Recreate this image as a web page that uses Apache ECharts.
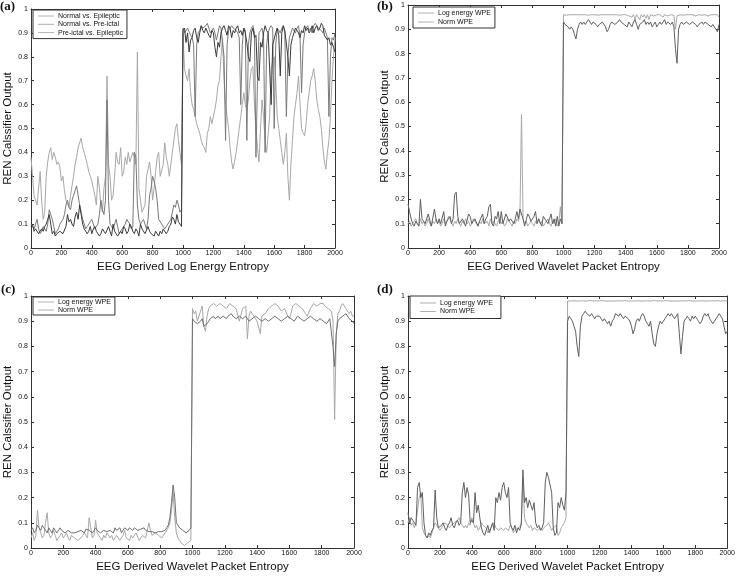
<!DOCTYPE html>
<html><head><meta charset="utf-8">
<script src="https://cdn.jsdelivr.net/npm/echarts@6/dist/echarts.min.js"></script>
<style>html,body{margin:0;padding:0;background:#fff}#c{width:738px;height:580px}</style>
</head><body><div id="c"></div>
<script>
// sample spacing of the series (x = index * STEP)
const STEP = 10;

// ---- Panel (a) ----
const aNormalEpileptic = [
 0.09,0.10,0.07,0.08,0.08,0.06,0.06,0.08,0.07,0.09,0.10,0.12,0.14,0.10,0.06,0.07,0.05,0.06,0.06,0.07,
 0.07,0.06,0.06,0.09,0.14,0.11,0.12,0.10,0.09,0.13,0.15,0.12,0.18,0.14,0.10,0.08,0.08,0.06,0.07,0.09,
 0.06,0.08,0.09,0.07,0.07,0.05,0.06,0.08,0.08,0.06,0.06,0.09,0.07,0.05,0.10,0.07,0.06,0.05,0.05,0.07,
 0.06,0.09,0.08,0.06,0.07,0.10,0.09,0.07,0.06,0.08,0.07,0.05,0.10,0.08,0.08,0.06,0.06,0.09,0.07,0.06,
 0.06,0.05,0.07,0.06,0.05,0.07,0.06,0.08,0.08,0.06,0.07,0.09,0.10,0.13,0.12,0.10,0.14,0.11,0.10,0.09,
 0.91,0.92,0.86,0.90,0.82,0.87,0.88,0.91,0.92,0.88,0.86,0.90,0.93,0.91,0.90,0.92,0.92,0.89,0.88,0.91,
 0.90,0.84,0.80,0.86,0.84,0.90,0.92,0.93,0.91,0.89,0.93,0.92,0.88,0.91,0.90,0.92,0.93,0.90,0.91,0.89,
 0.92,0.90,0.86,0.80,0.78,0.90,0.92,0.88,0.89,0.72,0.70,0.86,0.84,0.90,0.93,0.91,0.90,0.75,0.60,0.85,
 0.85,0.90,0.92,0.89,0.72,0.90,0.93,0.91,0.91,0.80,0.72,0.85,0.88,0.90,0.92,0.91,0.90,0.88,0.91,0.90,
 0.93,0.91,0.92,0.90,0.91,0.93,0.90,0.92,0.93,0.91,0.92,0.94,0.93,0.89,0.89,0.87,0.88,0.85,0.86,0.84,
 0.82];
const aNormalPreictal = [
 0.38,0.30,0.22,0.20,0.18,0.25,0.32,0.20,0.12,0.15,0.30,0.36,0.40,0.42,0.37,0.40,0.38,0.35,0.36,0.34,
 0.28,0.30,0.24,0.20,0.20,0.17,0.22,0.26,0.30,0.35,0.38,0.42,0.44,0.46,0.42,0.40,0.40,0.35,0.32,0.30,
 0.28,0.25,0.22,0.18,0.30,0.25,0.18,0.15,0.25,0.30,0.72,0.35,0.30,0.20,0.22,0.30,0.40,0.36,0.35,0.42,
 0.30,0.32,0.38,0.35,0.40,0.36,0.36,0.40,0.38,0.35,0.82,0.25,0.20,0.15,0.15,0.18,0.30,0.33,0.36,0.30,
 0.20,0.25,0.32,0.38,0.40,0.30,0.30,0.35,0.44,0.38,0.35,0.30,0.30,0.40,0.45,0.50,0.52,0.45,0.40,0.35,
 0.90,0.75,0.72,0.70,0.75,0.65,0.60,0.58,0.55,0.52,0.50,0.48,0.45,0.43,0.42,0.40,0.48,0.50,0.55,0.52,
 0.52,0.58,0.62,0.68,0.70,0.80,0.88,0.70,0.60,0.55,0.50,0.42,0.36,0.33,0.33,0.40,0.45,0.50,0.55,0.60,
 0.65,0.60,0.58,0.62,0.70,0.75,0.76,0.60,0.50,0.42,0.36,0.50,0.62,0.55,0.45,0.40,0.40,0.55,0.75,0.78,
 0.80,0.70,0.55,0.50,0.45,0.40,0.35,0.40,0.48,0.30,0.20,0.35,0.45,0.55,0.60,0.65,0.72,0.60,0.50,0.48,
 0.47,0.52,0.60,0.65,0.70,0.72,0.75,0.70,0.62,0.58,0.55,0.50,0.42,0.36,0.33,0.40,0.45,0.55,0.70,0.80,
 0.88];
const aPreictalEpileptic = [
 0.10,0.09,0.08,0.10,0.12,0.08,0.06,0.07,0.09,0.08,0.07,0.10,0.16,0.14,0.12,0.09,0.06,0.07,0.08,0.10,
 0.10,0.12,0.14,0.18,0.20,0.17,0.16,0.20,0.22,0.24,0.26,0.22,0.18,0.15,0.12,0.10,0.08,0.09,0.10,0.11,
 0.12,0.10,0.08,0.09,0.10,0.14,0.20,0.16,0.14,0.20,0.62,0.20,0.10,0.09,0.08,0.10,0.12,0.09,0.06,0.07,
 0.08,0.09,0.10,0.12,0.12,0.10,0.08,0.09,0.40,0.38,0.18,0.12,0.10,0.11,0.12,0.10,0.08,0.12,0.22,0.25,
 0.30,0.28,0.25,0.20,0.12,0.11,0.10,0.09,0.08,0.09,0.10,0.11,0.12,0.15,0.18,0.17,0.20,0.18,0.15,0.16,
 0.92,0.90,0.90,0.92,0.92,0.89,0.88,0.85,0.55,0.85,0.90,0.91,0.93,0.92,0.92,0.93,0.94,0.92,0.90,0.91,
 0.92,0.90,0.87,0.90,0.93,0.92,0.92,0.80,0.45,0.85,0.91,0.92,0.93,0.92,0.92,0.91,0.90,0.88,0.60,0.85,
 0.92,0.91,0.45,0.85,0.90,0.92,0.93,0.90,0.38,0.70,0.90,0.91,0.92,0.88,0.40,0.85,0.90,0.92,0.93,0.92,
 0.50,0.85,0.92,0.91,0.90,0.92,0.93,0.90,0.55,0.80,0.88,0.90,0.92,0.91,0.90,0.92,0.93,0.88,0.65,0.85,
 0.90,0.92,0.93,0.91,0.92,0.90,0.93,0.94,0.93,0.92,0.92,0.91,0.90,0.92,0.90,0.88,0.55,0.80,0.88,0.87,
 0.90];

// ---- Panel (b) ----
const bLogEnergy = [
 0.10,0.11,0.09,0.10,0.11,0.12,0.10,0.09,0.12,0.10,0.11,0.09,0.10,0.12,0.10,0.09,0.11,0.10,0.12,0.10,
 0.11,0.09,0.10,0.12,0.10,0.11,0.13,0.12,0.10,0.09,0.11,0.10,0.12,0.10,0.09,0.11,0.10,0.12,0.10,0.11,
 0.09,0.10,0.12,0.11,0.10,0.09,0.11,0.10,0.12,0.10,0.10,0.11,0.09,0.12,0.10,0.11,0.10,0.09,0.11,0.12,
 0.10,0.11,0.09,0.10,0.12,0.11,0.10,0.09,0.11,0.10,0.12,0.11,0.14,0.55,0.12,0.10,0.11,0.09,0.10,0.11,
 0.10,0.09,0.11,0.10,0.12,0.10,0.11,0.09,0.10,0.11,0.12,0.10,0.09,0.11,0.10,0.12,0.09,0.10,0.17,0.10,
 0.96,0.96,0.958,0.96,0.96,0.955,0.96,0.96,0.96,0.958,0.96,0.96,0.96,0.955,0.96,0.96,0.958,0.96,0.96,0.96,
 0.96,0.96,0.958,0.96,0.96,0.955,0.96,0.96,0.96,0.958,0.96,0.96,0.96,0.955,0.96,0.96,0.958,0.96,0.96,0.96,
 0.96,0.96,0.955,0.96,0.95,0.96,0.94,0.96,0.955,0.94,0.96,0.95,0.96,0.945,0.96,0.94,0.96,0.96,0.955,0.96,
 0.96,0.958,0.96,0.96,0.95,0.96,0.96,0.955,0.96,0.96,0.96,0.958,0.90,0.955,0.96,0.96,0.96,0.958,0.96,0.96,
 0.96,0.96,0.958,0.96,0.96,0.955,0.96,0.96,0.96,0.958,0.96,0.96,0.96,0.955,0.96,0.96,0.958,0.96,0.96,0.96,
 0.95];
const bNorm = [
 0.18,0.15,0.12,0.10,0.09,0.11,0.10,0.09,0.20,0.12,0.11,0.10,0.10,0.14,0.14,0.09,0.09,0.16,0.12,0.10,
 0.12,0.10,0.10,0.15,0.09,0.11,0.11,0.13,0.10,0.12,0.22,0.23,0.13,0.10,0.10,0.12,0.12,0.09,0.09,0.14,
 0.13,0.10,0.10,0.12,0.12,0.09,0.11,0.11,0.14,0.10,0.12,0.13,0.17,0.18,0.10,0.09,0.13,0.12,0.15,0.10,
 0.15,0.10,0.10,0.14,0.14,0.11,0.12,0.11,0.10,0.12,0.15,0.12,0.16,0.14,0.12,0.09,0.09,0.14,0.13,0.11,
 0.11,0.13,0.15,0.10,0.12,0.12,0.09,0.13,0.13,0.11,0.10,0.12,0.14,0.10,0.12,0.09,0.13,0.09,0.12,0.10,
 0.93,0.92,0.92,0.91,0.90,0.91,0.90,0.88,0.86,0.90,0.92,0.93,0.92,0.93,0.92,0.93,0.94,0.93,0.92,0.93,
 0.93,0.92,0.91,0.92,0.92,0.93,0.93,0.91,0.89,0.90,0.92,0.93,0.93,0.92,0.92,0.93,0.94,0.93,0.93,0.92,
 0.92,0.91,0.93,0.92,0.91,0.93,0.94,0.92,0.90,0.92,0.92,0.93,0.94,0.92,0.93,0.92,0.93,0.91,0.92,0.93,
 0.91,0.92,0.93,0.92,0.92,0.94,0.92,0.93,0.93,0.92,0.93,0.91,0.82,0.76,0.90,0.92,0.93,0.92,0.92,0.93,
 0.93,0.92,0.92,0.93,0.93,0.92,0.91,0.92,0.92,0.93,0.92,0.93,0.93,0.92,0.92,0.91,0.92,0.91,0.90,0.89,
 0.92];

// ---- Panel (c) ----
const cLogEnergy = [
 0.07,0.08,0.06,0.07,0.09,0.08,0.07,0.09,0.08,0.07,0.06,0.08,0.07,0.06,0.08,0.07,0.06,0.07,0.08,0.07,
 0.07,0.06,0.06,0.07,0.07,0.06,0.065,0.06,0.06,0.065,0.06,0.07,0.07,0.06,0.075,0.07,0.07,0.065,0.06,0.07,
 0.08,0.07,0.07,0.06,0.06,0.07,0.07,0.065,0.065,0.07,0.07,0.06,0.08,0.07,0.07,0.08,0.06,0.07,0.08,0.075,
 0.07,0.08,0.075,0.07,0.08,0.075,0.07,0.075,0.075,0.08,0.08,0.07,0.07,0.065,0.06,0.065,0.065,0.06,0.06,0.065,
 0.06,0.065,0.07,0.07,0.08,0.09,0.12,0.18,0.25,0.20,0.10,0.09,0.08,0.08,0.07,0.07,0.06,0.065,0.07,0.08,
 0.91,0.90,0.90,0.89,0.89,0.90,0.91,0.88,0.88,0.89,0.90,0.91,0.91,0.92,0.91,0.91,0.92,0.91,0.91,0.92,
 0.92,0.91,0.92,0.92,0.93,0.92,0.92,0.91,0.91,0.92,0.92,0.91,0.91,0.92,0.92,0.90,0.90,0.91,0.91,0.92,
 0.92,0.91,0.91,0.90,0.90,0.91,0.91,0.90,0.90,0.91,0.91,0.92,0.92,0.91,0.91,0.90,0.90,0.91,0.91,0.92,
 0.92,0.91,0.91,0.90,0.90,0.92,0.92,0.91,0.91,0.90,0.90,0.91,0.91,0.92,0.92,0.91,0.91,0.90,0.90,0.91,
 0.91,0.90,0.90,0.89,0.89,0.91,0.91,0.80,0.72,0.85,0.90,0.91,0.91,0.92,0.92,0.93,0.93,0.91,0.91,0.90,
 0.89];
const cNorm = [
 0.04,0.06,0.03,0.05,0.15,0.08,0.06,0.04,0.05,0.10,0.14,0.06,0.04,0.05,0.07,0.05,0.03,0.04,0.05,0.06,
 0.04,0.05,0.06,0.04,0.03,0.05,0.05,0.04,0.04,0.03,0.03,0.04,0.05,0.06,0.06,0.04,0.12,0.08,0.04,0.05,
 0.11,0.06,0.05,0.04,0.03,0.05,0.04,0.06,0.06,0.04,0.05,0.03,0.04,0.05,0.04,0.03,0.03,0.05,0.07,0.04,
 0.04,0.03,0.05,0.04,0.04,0.06,0.06,0.03,0.03,0.05,0.05,0.04,0.04,0.10,0.07,0.05,0.05,0.06,0.06,0.05,
 0.05,0.04,0.04,0.06,0.06,0.08,0.10,0.15,0.22,0.12,0.06,0.04,0.03,0.02,0.02,0.01,0.01,0.02,0.02,0.03,
 0.95,0.93,0.94,0.90,0.90,0.94,0.96,0.88,0.86,0.92,0.95,0.96,0.96,0.97,0.97,0.96,0.96,0.97,0.97,0.96,
 0.96,0.95,0.95,0.97,0.97,0.96,0.96,0.95,0.95,0.90,0.90,0.95,0.95,0.96,0.83,0.92,0.94,0.94,0.92,0.92,
 0.90,0.90,0.85,0.92,0.92,0.93,0.93,0.95,0.95,0.96,0.96,0.97,0.97,0.96,0.96,0.94,0.94,0.95,0.95,0.92,
 0.91,0.93,0.96,0.96,0.97,0.97,0.96,0.96,0.95,0.95,0.93,0.92,0.92,0.95,0.95,0.97,0.97,0.96,0.96,0.97,
 0.97,0.97,0.96,0.96,0.95,0.95,0.94,0.90,0.51,0.85,0.93,0.94,0.96,0.97,0.97,0.95,0.95,0.93,0.94,0.92,
 0.92];

// ---- Panel (d) ----
const dLogEnergy = [
 0.10,0.12,0.09,0.10,0.08,0.10,0.10,0.20,0.22,0.08,0.06,0.05,0.04,0.05,0.04,0.06,0.08,0.10,0.10,0.08,
 0.07,0.08,0.09,0.10,0.10,0.09,0.08,0.09,0.09,0.10,0.10,0.11,0.12,0.10,0.09,0.08,0.09,0.08,0.10,0.09,
 0.12,0.10,0.08,0.09,0.07,0.08,0.10,0.09,0.09,0.08,0.06,0.07,0.08,0.09,0.10,0.08,0.08,0.07,0.08,0.08,
 0.07,0.08,0.08,0.07,0.09,0.08,0.06,0.07,0.07,0.08,0.08,0.09,0.28,0.12,0.10,0.09,0.08,0.09,0.07,0.08,
 0.08,0.07,0.07,0.08,0.07,0.08,0.08,0.09,0.10,0.10,0.07,0.08,0.08,0.09,0.05,0.06,0.08,0.09,0.10,0.12,
 0.98,0.982,0.98,0.98,0.981,0.98,0.98,0.982,0.98,0.98,0.981,0.98,0.98,0.98,0.982,0.98,0.98,0.98,0.981,0.98,
 0.98,0.98,0.982,0.98,0.98,0.981,0.98,0.98,0.98,0.982,0.98,0.98,0.981,0.98,0.98,0.98,0.982,0.98,0.98,0.981,
 0.98,0.982,0.98,0.98,0.981,0.98,0.98,0.982,0.98,0.98,0.981,0.98,0.98,0.98,0.982,0.98,0.98,0.98,0.981,0.98,
 0.98,0.98,0.982,0.98,0.98,0.981,0.98,0.98,0.98,0.982,0.98,0.98,0.981,0.98,0.98,0.98,0.982,0.98,0.98,0.981,
 0.98,0.982,0.98,0.98,0.981,0.98,0.98,0.982,0.98,0.98,0.981,0.98,0.98,0.98,0.982,0.98,0.98,0.98,0.981,0.98,
 0.98];
const dNorm = [
 0.14,0.10,0.12,0.11,0.10,0.09,0.24,0.26,0.20,0.22,0.10,0.05,0.04,0.06,0.05,0.07,0.08,0.23,0.12,0.08,
 0.08,0.09,0.10,0.08,0.07,0.09,0.10,0.12,0.09,0.08,0.10,0.11,0.09,0.10,0.22,0.26,0.20,0.24,0.21,0.10,
 0.11,0.10,0.22,0.14,0.17,0.12,0.08,0.06,0.05,0.07,0.09,0.06,0.08,0.10,0.07,0.20,0.18,0.22,0.19,0.24,
 0.26,0.22,0.20,0.24,0.10,0.08,0.07,0.09,0.06,0.08,0.07,0.10,0.31,0.18,0.20,0.16,0.19,0.17,0.15,0.18,
 0.10,0.08,0.09,0.07,0.08,0.10,0.26,0.30,0.28,0.25,0.22,0.08,0.05,0.06,0.18,0.16,0.20,0.17,0.15,0.22,
 0.90,0.92,0.91,0.90,0.88,0.86,0.80,0.76,0.88,0.92,0.93,0.94,0.93,0.93,0.92,0.93,0.92,0.91,0.92,0.92,
 0.92,0.91,0.90,0.91,0.90,0.89,0.90,0.88,0.90,0.91,0.93,0.93,0.92,0.93,0.92,0.91,0.92,0.92,0.91,0.90,
 0.88,0.85,0.87,0.90,0.91,0.90,0.92,0.93,0.92,0.90,0.89,0.88,0.90,0.85,0.81,0.80,0.85,0.88,0.90,0.89,
 0.90,0.91,0.92,0.93,0.92,0.93,0.92,0.91,0.92,0.93,0.85,0.77,0.84,0.90,0.91,0.92,0.91,0.90,0.92,0.91,
 0.92,0.91,0.90,0.89,0.90,0.92,0.93,0.92,0.93,0.91,0.90,0.89,0.90,0.91,0.92,0.93,0.92,0.91,0.88,0.85,
 0.86];

// axis names and labels
const yName = 'REN Calssifier Output';
const xNames = ['EEG Derived Log Energy Entropy','EEG Derived Wavelet Packet Entropy',
                'EEG Derived Wavelet Packet Entropy','EEG Derived Wavelet Packet Entropy'];
const panelLabels = ['(a)','(b)','(c)','(d)'];
const legendA = ['Normal vs. Epileptic','Normal vs. Pre-ictal','Pre-ictal vs. Epileptic'];
const legendB = ['Log energy WPE','Norm WPE'];

function pairs(arr){ return arr.map((v,i)=>[i*STEP, v]); }

const grids = [
  {left:31, top:9, width:304, height:239},
  {left:408, top:5, width:311, height:243},
  {left:31, top:296, width:323, height:252},
  {left:408, top:296, width:321, height:252}
];
const FONT = 'Liberation Sans, Arial, sans-serif';
const frameColor = '#333';

const xAxes = [], yAxes = [];
grids.forEach((g,k)=>{
  const base = {gridIndex:k, type:'value', min:0, max:2000, interval:200,
    axisLine:{show:true, onZero:false, lineStyle:{color:frameColor, width:1}},
    axisTick:{show:true, inside:true, length:3, lineStyle:{color:frameColor}},
    splitLine:{show:false}};
  xAxes.push(Object.assign({}, base, {position:'bottom',
    axisLabel:{show:true, fontSize:7, color:'#111', margin:2, fontFamily:FONT,
      formatter:v=>String(v)},
    name:xNames[k], nameLocation:'middle', nameGap:13,
    nameTextStyle:{fontSize:11.5, color:'#111', fontFamily:FONT}}));
  xAxes.push(Object.assign({}, base, {position:'top', axisLabel:{show:false}}));
  const ybase = {gridIndex:k, type:'value', min:0, max:1, interval:0.1,
    axisLine:{show:true, onZero:false, lineStyle:{color:frameColor, width:1}},
    axisTick:{show:true, inside:true, length:3, lineStyle:{color:frameColor}},
    splitLine:{show:false}};
  yAxes.push(Object.assign({}, ybase, {position:'left',
    axisLabel:{show:true, fontSize:7, color:'#111', margin:3, fontFamily:FONT},
    name:yName, nameLocation:'middle', nameGap:17, nameRotate:90,
    nameTextStyle:{fontSize:11.5, color:'#111', fontFamily:FONT}}));
  yAxes.push(Object.assign({}, ybase, {position:'right', axisLabel:{show:false}}));
});

function line(name, data, k, color, z){
  return {type:'line', name:name, data:pairs(data), xAxisIndex:2*k, yAxisIndex:2*k,
    showSymbol:false, symbol:'none', lineStyle:{color:color, width:1}, itemStyle:{color:color},
    z:z||2, silent:true};
}

const cDark = '#3a3a3a', cMid = '#7a7a7a', cLight = '#a8a8a8';
const series = [
  line('Normal vs. Pre-ictal', aNormalPreictal, 0, cLight, 2),
  line('Pre-ictal vs. Epileptic', aPreictalEpileptic, 0, cMid, 3),
  line('Normal vs. Epileptic', aNormalEpileptic, 0, cDark, 4),
  line('Log energy WPE', bLogEnergy, 1, cLight, 2),
  line('Norm WPE', bNorm, 1, '#606060', 3),
  line('Log energy WPE', cLogEnergy, 2, '#707070', 3),
  line('Norm WPE', cNorm, 2, cLight, 2),
  line('Log energy WPE', dLogEnergy, 3, cLight, 2),
  line('Norm WPE', dNorm, 3, '#606060', 3)
];

function legend(names, left, top, padding, gap){
  return {show:true, orient:'vertical', left:left, top:top, padding:padding, itemGap:gap,
    itemWidth:16, itemHeight:1, icon:'rect', selectedMode:false,
    borderColor:'#333', borderWidth:1, backgroundColor:'#fff', borderRadius:0,
    textStyle:{fontSize:7, color:'#111', fontFamily:FONT, lineHeight:8, padding:[0,0,0,-1]},
    data:names.map(n=>({name:n, itemStyle:{color:'#b0b0b0'}}))};
}

const titles = panelLabels.map((t,k)=>({text:t,
  left:[0,377,1,377][k], top:[0,0,283,283][k], padding:0,
  textStyle:{fontSize:13, fontWeight:'bold', fontFamily:'Liberation Serif, Times New Roman, serif', color:'#111'}}));

const chart = echarts.init(document.getElementById('c'), null, {renderer:'canvas'});
chart.setOption({
  animation:false, backgroundColor:'#fff',
  title:titles,
  grid:grids,
  xAxis:xAxes, yAxis:yAxes,
  legend:[
    legend(legendA, 33, 10, [2,4,2,5], 0.3),
    legend(legendB, 413, 7, [2,4,2,5], 1),
    legend(legendB, 33, 297, [1,4,1,5], 0),
    legend(legendB, 410, 296, [3,8,3,10], 0.5)
  ],
  series:series
});
</script></body></html>
